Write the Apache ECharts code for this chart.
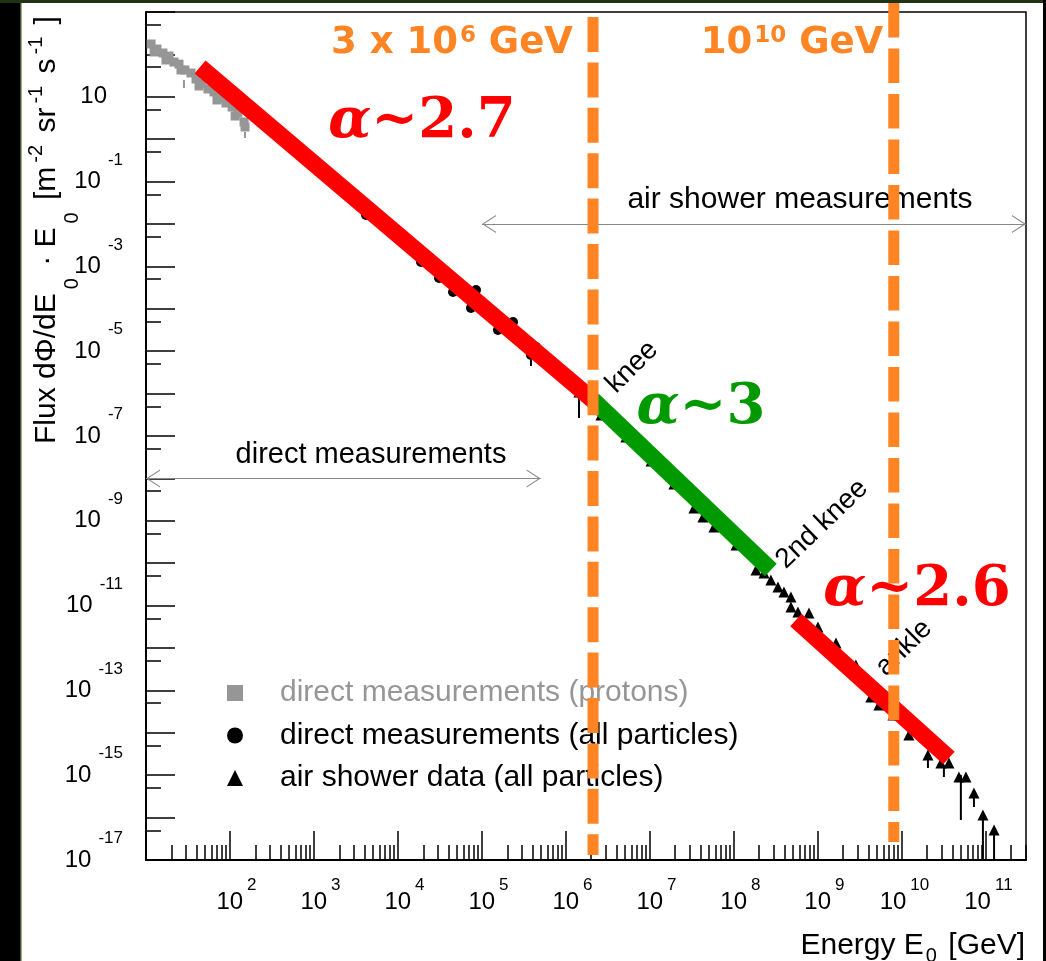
<!DOCTYPE html>
<html>
<head>
<meta charset="utf-8">
<title>Cosmic ray energy spectrum</title>
<script src="https://cdn.jsdelivr.net/npm/echarts@6.0.0/dist/echarts.min.js"></script>
<style>
  html, body { margin: 0; padding: 0; background: #fff; }
  #chart { width: 1046px; height: 961px; }
</style>
</head>
<body>
<div id="chart"></div>
<script>
// values: [energy GeV, flux * E0]
const protonData = [
  [11.5, 176], [12.5, 114], [13.5, 134], [15.9, 108], [17.3, 73.8], [18.8, 91.6],
  [21.5, 66], [24.7, 59], [26.1, 42.9], [29.1, 42.9], [34.3, 36.4], [39.4, 26.3],
  [42.8, 18.0], [46.4, 21.1], [54.7, 15.3], [64.5, 13.0], [70.0, 8.41], [76.0, 9.37],
  [89.6, 7.14], [106, 5.74], [115, 3.52], [124, 4.15], [147, 2.55], [151, 1.94]
];
const allParticleData = [
  [4160, 1.63e-2], [18800, 1.27e-3], [30800, 5.32e-4], [45200, 2.49e-4], [74000, 1.04e-4],
  [84900, 2.77e-4], [155000, 3.16e-5], [234000, 4.89e-5], [383000, 8.13e-6], [440000, 1.26e-5]
];
const airShowerData = [
  [1.43e6, 1.09e-6], [2.61e6, 3.13e-7], [5.18e6, 9.46e-8], [1.03e7, 2.57e-8], [1.93e7, 7.38e-9],
  [3.34e7, 2.00e-9], [4.27e7, 1.23e-9], [5.78e7, 7.14e-10], [1.06e8, 2.69e-10], [1.83e8, 6.92e-11],
  [2.28e8, 5.88e-11], [2.75e8, 4.02e-11], [3.34e8, 2.75e-11], [3.94e8, 2.09e-11], [4.77e8, 1.60e-11],
  [4.77e8, 9.27e-12], [5.78e8, 7.06e-12], [7.82e8, 6.68e-12], [1.0e9, 3.13e-12], [1.64e9, 1.31e-12],
  [2.83e9, 3.97e-13], [4.27e9, 6.98e-14], [5.32e9, 4.53e-14], [7.82e9, 2.63e-14], [1.21e10, 8.87e-15],
  [2.04e10, 2.99e-15], [2.91e10, 1.94e-15], [3.63e10, 1.94e-15], [4.77e10, 9.07e-16], [5.78e10, 9.07e-16],
  [7.20e10, 3.80e-16], [9.21e10, 1.15e-16], [1.25e11, 5.10e-17]
];
// vertical error bars: [energy, low, high]
const blackErrors = [
  [1.43e6, 2.66e-7, 1.09e-6], [383000, 4.48e-6, 6.19e-6], [2.04e10, 1.48e-15, 2.28e-15],
  [3.16e10, 9.07e-16, 1.48e-15], [5.03e10, 8.77e-17, 1.01e-15], [7.2e10, 1.78e-16, 2.9e-16],
  [9.21e10, 1.05e-17, 9.8e-17], [1.25e11, 1.05e-17, 5e-17]
];
const protonErrors = [[28.3, 16.1, 24.9], [151, 1.07, 1.48]];

// power-law fits drawn over the data
const fitLow = [[44, 50.5], [2.09e6, 7.06e-7]];
const fitKnee = [[2.09e6, 7.06e-7], [2.75e8, 6.92e-11]];
const fitHigh = [[5.47e8, 4.57e-12], [3.63e10, 2.55e-15]];

// orange energy markers: [energy, top flux, bottom flux]
const kneeMark = [2.1e6, 762, 1.31e-17];
const ankleMark = [8.0e9, 1630, 2.66e-17];

// range arrows: [from energy, to energy, flux]
const directRange = [10, 5.0e5, 1e-8];
const airRange = [1.0e5, 3e11, 1e-2];

// axis ticks
const xMajorTicks = [1e1, 1e2, 1e3, 1e4, 1e5, 1e6, 1e7, 1e8, 1e9, 1e10, 1e11];
const xLabelTicks = [1e2, 1e3, 1e4, 1e5, 1e6, 1e7, 1e8, 1e9, 1e10, 1e11];
const xMinorMult = [2, 3, 4, 5, 6, 7, 8, 9];
const yMajorTicks = [1e-17, 1e-16, 1e-15, 1e-14, 1e-13, 1e-12, 1e-11, 1e-10, 1e-9, 1e-8,
  1e-7, 1e-6, 1e-5, 1e-4, 1e-3, 1e-2, 1e-1, 1, 1e1, 1e2, 1e3];
const yMinorTicks = [5e-17, 5e-16, 5e-15, 5e-14, 5e-13, 5e-12, 5e-11, 5e-10, 5e-9, 5e-8,
  5e-7, 5e-6, 5e-5, 5e-4, 5e-3, 5e-2, 5e-1, 5, 50, 500];
const yLabelTicks = [1e-17, 1e-15, 1e-13, 1e-11, 1e-9, 1e-7, 1e-5, 1e-3, 1e-1, 1e1];

const xMinorTicks = [];
xMajorTicks.forEach(d => xMinorMult.forEach(m => { if (d * m <= 3e11) xMinorTicks.push(d * m); }));

const FONT = "'Liberation Sans', Arial, Helvetica, sans-serif";
const ORANGE = '#ff8424';
const RED = '#ff0000';
const GREEN = '#009a00';

// open arrow head, tip at the centre of its box
const chevron = 'path://M50,0L50.4,0L50.4,0.4Z M0,200L50,100L100,200L93,200L50,114L7,200Z';

const chart = echarts.init(document.getElementById('chart'), null, { renderer: 'canvas' });

const expOf = v => Math.round(Math.log10(v));

const fitLine = (data, color) => ({
  type: 'line', data: data, symbol: 'none', silent: true, z: 4,
  lineStyle: { color: color, width: 17, cap: 'butt' }
});
const markerLine = (m, dash) => ({
  type: 'line', data: [[m[0], m[1]], [m[0], m[2]]], symbol: 'none', silent: true, z: 8, clip: false,
  lineStyle: { color: ORANGE, width: 11, type: dash }
});
const errorSeries = (data, color) => ({
  type: 'custom', data: data, z: 2, silent: true,
  encode: { x: 0, y: [1, 2] },
  renderItem: (params, api) => {
    const a = api.coord([api.value(0), api.value(1)]);
    const b = api.coord([api.value(0), api.value(2)]);
    return { type: 'line', shape: { x1: a[0], y1: a[1], x2: b[0], y2: b[1] }, style: { stroke: color, lineWidth: 2 } };
  }
});
const rangeArrow = r => ({
  silent: true, symbol: [chevron, chevron], symbolSize: [18, 28], label: { show: false },
  lineStyle: { color: '#888', width: 1, type: 'solid' },
  data: [[{ coord: [r[0], r[2]] }, { coord: [r[1], r[2]] }]]
});

const alphaRich = (color) => ({
  a: { fontFamily: 'DejaVu Serif', fontWeight: 'bold', fontStyle: 'italic', fontSize: 56, fill: color, color: color },
  b: { fontFamily: 'DejaVu Serif', fontWeight: 'bold', fontSize: 56, fill: color, color: color }
});
const orangeRich = {
  b: { fontFamily: 'DejaVu Sans', fontWeight: 'bold', fontSize: 37, lineHeight: 37, fill: ORANGE },
  s: { fontFamily: 'DejaVu Sans', fontWeight: 'bold', fontSize: 23, lineHeight: 23, verticalAlign: 'top', fill: ORANGE, padding: [0, 0, 0, 2] }
};
const plainText = (x, y, text, size, rot, z) => ({
  type: 'text', x: x, y: y, rotation: rot || 0, z: z || 3, silent: true,
  style: { text: text, fontFamily: FONT, fontSize: size, fill: '#000', align: 'center', verticalAlign: 'middle' }
});

const option = {
  animation: false,
  backgroundColor: '#fff',
  textStyle: { fontFamily: FONT },
  grid: { left: 146, top: 12, right: 20, bottom: 101, show: true, borderColor: '#000', borderWidth: 1.5, backgroundColor: 'transparent' },
  xAxis: [
    {
      type: 'log', logBase: 10, min: 10, max: 3e11, position: 'bottom',
      axisLine: { show: true, lineStyle: { color: '#000', width: 2 } },
      axisTick: { show: true, inside: true, length: 29, lineStyle: { color: '#000', width: 1.5 }, customValues: xMajorTicks },
      splitLine: { show: false },
      axisLabel: {
        show: true, margin: 17, customValues: xLabelTicks, hideOverlap: false,
        formatter: v => {
          const e = expOf(v);
          return '{' + (e >= 10 ? 'sp2' : 'sp1') + '| }{b|10}{s|' + e + '}';
        },
        rich: {
          sp1: { width: 13, fontSize: 10, lineHeight: 10 },
          sp2: { width: 5, fontSize: 10, lineHeight: 10 },
          b: { fontFamily: FONT, fontSize: 24, lineHeight: 50, color: '#000' },
          s: { fontFamily: FONT, fontSize: 17, lineHeight: 17, verticalAlign: 'top', padding: [0, 0, 0, 4], color: '#000' }
        }
      }
    },
    {
      type: 'log', logBase: 10, min: 10, max: 3e11, position: 'bottom', offset: 0,
      axisLine: { show: false },
      axisTick: { show: true, inside: true, length: 15, lineStyle: { color: '#000', width: 1.5 }, customValues: xMinorTicks },
      axisLabel: { show: false },
      splitLine: { show: false }
    }
  ],
  yAxis: [
    {
      type: 'log', logBase: 10, min: 1e-17, max: 1e3, position: 'left',
      axisLine: { show: true, lineStyle: { color: '#000', width: 2 } },
      axisTick: { show: true, inside: true, length: 29, lineStyle: { color: '#000', width: 1.5 }, customValues: yMajorTicks },
      splitLine: { show: false },
      axisLabel: {
        show: true, margin: 23, customValues: yLabelTicks, hideOverlap: false,
        formatter: v => {
          const e = expOf(v);
          return e === 1 ? '{b|10}{sp| }' : '{b|10}{s|' + e + '}';
        },
        rich: {
          sp: { width: 16, fontSize: 10, lineHeight: 10 },
          b: { fontFamily: FONT, fontSize: 24, lineHeight: 60, color: '#000' },
          s: { fontFamily: FONT, fontSize: 17, lineHeight: 17, verticalAlign: 'top', padding: [0, 0, 0, 7], color: '#000' }
        }
      }
    },
    {
      type: 'log', logBase: 10, min: 1e-17, max: 1e3, position: 'left', offset: 0,
      axisLine: { show: false },
      axisTick: { show: true, inside: true, length: 15, lineStyle: { color: '#000', width: 1.5 }, customValues: yMinorTicks },
      axisLabel: { show: false },
      splitLine: { show: false }
    }
  ],
  legend: {
    orient: 'vertical', left: 222, top: 673, itemWidth: 16, itemHeight: 16, itemGap: 12.5,
    selectedMode: false,
    textStyle: { fontFamily: FONT, fontSize: 30, lineHeight: 30, color: '#000', padding: [0, 0, 0, 32] },
    data: [
      { name: 'direct measurements (protons)', textStyle: { color: '#969696' } },
      { name: 'direct measurements (all particles)' },
      { name: 'air shower data (all particles)' }
    ]
  },
  series: [
    { name: 'direct measurements (protons)', type: 'scatter', data: protonData, symbol: 'rect', symbolSize: 9,
      itemStyle: { color: '#969696', opacity: 1 }, z: 2 },
    { name: 'direct measurements (all particles)', type: 'scatter', data: allParticleData, symbol: 'circle', symbolSize: 10,
      itemStyle: { color: '#000', opacity: 1 }, z: 2 },
    { name: 'air shower data (all particles)', type: 'scatter', data: airShowerData, symbol: 'triangle', symbolSize: 11,
      itemStyle: { color: '#000', opacity: 1 }, z: 2 },
    errorSeries(blackErrors, '#000'),
    errorSeries(protonErrors, '#969696'),
    fitLine(fitLow, RED),
    fitLine(fitKnee, GREEN),
    fitLine(fitHigh, RED),
    markerLine(kneeMark, [35, 10.4]),
    markerLine(ankleMark, [34.5, 11]),
    { type: 'line', data: [], silent: true, z: 3, markLine: rangeArrow(directRange) },
    { type: 'line', data: [], silent: true, z: 3, markLine: rangeArrow(airRange) }
  ],
  graphic: [
    // page frame
    { type: 'rect', shape: { x: 0, y: 0, width: 20, height: 961 }, style: { fill: '#000' }, z: 100, silent: true },
    { type: 'rect', shape: { x: 20, y: 0, width: 1.5, height: 961 }, style: { fill: '#3d5a2c' }, z: 100, silent: true },
    { type: 'rect', shape: { x: 0, y: 0, width: 1046, height: 3 }, style: { fill: '#1f3316' }, z: 100, silent: true },
    { type: 'rect', shape: { x: 1043, y: 0, width: 3, height: 961 }, style: { fill: '#000' }, z: 100, silent: true },
    // axis titles
    {
      type: 'text', x: 47, y: 230, rotation: Math.PI / 2, silent: true, z: 10,
      style: {
        text: '{n|Flux d\u03A6/dE}{sub|0}{n| \u00B7 E}{sub|0}{n| [m}{sup|-2}{n| sr}{sup|-1}{n| s}{sup|-1}{n| ]}',
        align: 'center', verticalAlign: 'middle',
        rich: {
          n: { fontFamily: FONT, fontSize: 30, lineHeight: 74, fill: '#000' },
          sup: { fontFamily: FONT, fontSize: 20, lineHeight: 20, verticalAlign: 'top', padding: [16, 4, 0, 4], fill: '#000' },
          sub: { fontFamily: FONT, fontSize: 20, lineHeight: 20, verticalAlign: 'bottom', padding: [0, 4, 2, 4], fill: '#000' }
        }
      }
    },
    {
      type: 'text', x: 1025, y: 946, silent: true, z: 10,
      style: {
        text: '{n|Energy E}{sub|0}{n| [GeV]}',
        align: 'right', verticalAlign: 'middle',
        rich: {
          n: { fontFamily: FONT, fontSize: 30, lineHeight: 44, fill: '#000' },
          sub: { fontFamily: FONT, fontSize: 20, lineHeight: 20, verticalAlign: 'bottom', padding: [0, 3, 2, 2], fill: '#000' }
        }
      }
    },
    // range captions and feature names
    plainText(371, 455, 'direct measurements', 29),
    plainText(800, 200, 'air shower measurements', 30),
    plainText(632, 367, 'knee', 28, Math.PI / 4),
    plainText(822, 524, '2nd knee', 28, Math.PI / 4 - 0.02),
    plainText(904, 648, 'ankle', 28, Math.PI / 4),
    // energy marker captions
    { type: 'text', x: 452, y: 43, silent: true, z: 6,
      style: { text: '{b|3 x 10}{s|6}{b| GeV}', align: 'center', verticalAlign: 'middle', rich: orangeRich } },
    { type: 'text', x: 792, y: 43, silent: true, z: 6,
      style: { text: '{b|10}{s|10}{b| GeV}', align: 'center', verticalAlign: 'middle', rich: orangeRich } },
    // spectral index captions
    { type: 'text', x: 422, y: 122, silent: true, z: 6,
      style: { text: '{a|\u03B1}{b|~2.7}', align: 'center', verticalAlign: 'middle', rich: alphaRich(RED) } },
    { type: 'text', x: 701, y: 408, silent: true, z: 6,
      style: { text: '{a|\u03B1}{b|~3}', align: 'center', verticalAlign: 'middle', rich: alphaRich(GREEN) } },
    { type: 'text', x: 917, y: 590, silent: true, z: 6,
      style: { text: '{a|\u03B1}{b|~2.6}', align: 'center', verticalAlign: 'middle', rich: alphaRich(RED) } }
  ]
};

chart.setOption(option);
</script>
</body>
</html>
